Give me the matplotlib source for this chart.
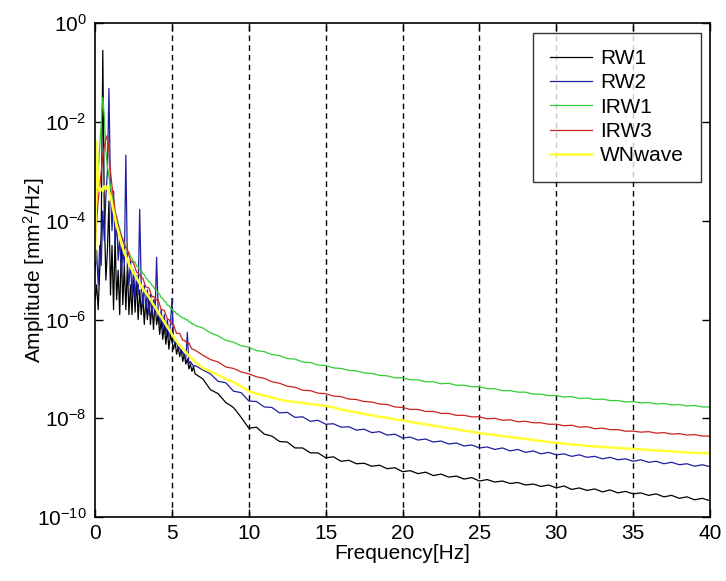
import numpy as np
import matplotlib
matplotlib.use('Agg')
import matplotlib.pyplot as plt
from matplotlib.ticker import FuncFormatter, NullLocator

plt.rcParams['font.family'] = ['Liberation Sans', 'DejaVu Sans']
plt.rcParams['mathtext.fontset'] = 'custom'
plt.rcParams['mathtext.rm'] = 'Liberation Sans'
plt.rcParams['mathtext.it'] = 'Liberation Sans'

# frequency grid: 0.1 Hz steps up to 6.5 Hz, then 0.5 Hz steps to 40 Hz
freq_low = np.round(np.arange(0, 66) * 0.1, 1)
freq_high = np.round(7.0 + np.arange(0, 67) * 0.5, 1)
freq = np.concatenate([freq_low, freq_high])

# log10 of amplitude
rw1_low = [-5.6, -5.3, -5.8, -5.0, -4.2, -0.55, -3.9, -5.2, -4.6, -3.6,
           -5.5, -4.5, -5.8, -4.3, -5.6, -5.0, -5.9, -4.5, -5.7, -4.9,
           -5.8, -4.9, -5.9, -5.3, -5.9, -5.1, -5.85, -5.2, -6.0, -5.4,
           -5.9, -5.5, -6.1, -5.6, -6.0, -5.5, -6.1, -5.7, -6.2, -5.6,
           -6.1, -5.9, -6.3, -6.0, -6.4, -6.1, -6.5, -6.2, -6.6, -6.3,
           -6.45, -6.6, -6.45, -6.7, -6.55, -6.75, -6.6, -6.85, -6.7, -6.9,
           -6.8, -7.0, -6.9, -7.05, -6.95, -7.1]
rw1_high = [-7.2, -7.42, -7.5, -7.68, -7.78, -7.98, -8.2, -8.18, -8.32, -8.36,
            -8.47, -8.48, -8.6, -8.6, -8.7, -8.7, -8.8, -8.78, -8.87, -8.85,
            -8.92, -8.91, -8.97, -8.95, -9.02, -9.0, -9.08, -9.06, -9.12, -9.09,
            -9.16, -9.13, -9.19, -9.17, -9.23, -9.2, -9.27, -9.24, -9.29, -9.27,
            -9.32, -9.3, -9.35, -9.33, -9.38, -9.35, -9.41, -9.37, -9.44, -9.41,
            -9.46, -9.43, -9.49, -9.45, -9.51, -9.48, -9.53, -9.51, -9.56, -9.53,
            -9.59, -9.56, -9.62, -9.59, -9.65, -9.62, -9.67]

rw2_low = [-5.0, -4.6, -5.3, -4.5, -4.9, -3.8, -4.4, -3.5, -3.0, -1.32,
           -3.4, -4.2, -3.4, -4.5, -4.0, -4.8, -4.3, -5.1, -4.6, -4.9,
           -2.67, -4.9, -5.3, -4.8, -5.5, -5.0, -5.6, -5.1, -5.5, -3.77,
           -5.3, -5.7, -5.3, -5.8, -5.4, -5.9, -5.5, -5.9, -5.6, -5.9,
           -4.74, -5.8, -6.1, -5.8, -6.2, -5.9, -6.3, -6.0, -6.35, -6.1,
           -5.57, -6.4, -6.5, -6.45, -6.6, -6.55, -6.7, -6.65, -6.75, -6.8,
           -6.26, -6.9, -6.85, -6.9, -6.95, -6.93]
rw2_high = [-7.02, -7.1, -7.25, -7.28, -7.45, -7.48, -7.65, -7.66, -7.77, -7.78,
            -7.89, -7.88, -7.98, -7.97, -8.06, -8.04, -8.12, -8.11, -8.18, -8.17,
            -8.24, -8.22, -8.29, -8.27, -8.34, -8.32, -8.4, -8.38, -8.44, -8.42,
            -8.48, -8.46, -8.52, -8.5, -8.56, -8.54, -8.6, -8.58, -8.63, -8.6,
            -8.66, -8.63, -8.69, -8.66, -8.72, -8.69, -8.74, -8.72, -8.77, -8.74,
            -8.79, -8.77, -8.82, -8.79, -8.84, -8.82, -8.87, -8.84, -8.89, -8.87,
            -8.92, -8.89, -8.94, -8.92, -8.97, -8.94, -8.98]

irw1_low = [-4.2, -3.6, -3.0, -2.5, -2.0, -1.5, -1.9, -2.6, -2.9, -3.1,
            -3.3, -3.5, -3.6, -3.85, -3.9, -4.05, -4.15, -4.3, -4.35, -4.48,
            -4.5, -4.62, -4.63, -4.72, -4.76, -4.84, -4.83, -4.92, -4.94, -4.99,
            -5.0, -5.07, -5.09, -5.16, -5.18, -5.24, -5.25, -5.31, -5.34, -5.39,
            -5.41, -5.46, -5.49, -5.56, -5.57, -5.63, -5.64, -5.71, -5.71, -5.77,
            -5.79, -5.84, -5.84, -5.89, -5.89, -5.93, -5.94, -5.97, -5.97, -6.01,
            -6.0, -6.05, -6.05, -6.09, -6.09, -6.12]
irw1_high = [-6.17, -6.27, -6.33, -6.42, -6.46, -6.53, -6.56, -6.63, -6.65, -6.71,
             -6.73, -6.79, -6.8, -6.86, -6.87, -6.92, -6.93, -6.98, -6.99, -7.03,
             -7.04, -7.08, -7.09, -7.13, -7.14, -7.18, -7.18, -7.22, -7.22, -7.26,
             -7.26, -7.3, -7.29, -7.33, -7.33, -7.36, -7.36, -7.4, -7.4, -7.44,
             -7.44, -7.47, -7.47, -7.51, -7.51, -7.54, -7.54, -7.57, -7.56, -7.6,
             -7.59, -7.62, -7.61, -7.64, -7.64, -7.67, -7.66, -7.69, -7.68, -7.71,
             -7.7, -7.73, -7.72, -7.75, -7.74, -7.77, -7.77]

irw3_low = [-4.5, -4.0, -3.6, -3.3, -3.0, -2.7, -2.5, -2.35, -2.27, -2.6,
            -3.0, -3.3, -3.55, -3.8, -3.95, -4.1, -4.2, -4.3, -4.4, -4.48,
            -4.55, -4.58, -4.7, -4.8, -4.83, -4.86, -4.95, -5.04, -5.06, -5.1,
            -5.15, -5.16, -5.25, -5.34, -5.35, -5.36, -5.45, -5.54, -5.53, -5.57,
            -5.6, -5.6, -5.7, -5.8, -5.8, -5.82, -5.9, -5.99, -6.0, -6.05,
            -6.1, -6.1, -6.2, -6.28, -6.28, -6.28, -6.35, -6.42, -6.42, -6.45,
            -6.48, -6.47, -6.54, -6.6, -6.6, -6.62]
irw3_high = [-6.72, -6.81, -6.86, -6.96, -6.99, -7.06, -7.1, -7.16, -7.19, -7.26,
             -7.29, -7.35, -7.37, -7.43, -7.44, -7.49, -7.5, -7.55, -7.56, -7.61,
             -7.62, -7.66, -7.67, -7.71, -7.72, -7.77, -7.78, -7.82, -7.82, -7.86,
             -7.86, -7.9, -7.9, -7.94, -7.94, -7.97, -7.97, -8.01, -8.0, -8.04,
             -8.03, -8.07, -8.06, -8.09, -8.09, -8.12, -8.12, -8.15, -8.14, -8.18,
             -8.17, -8.21, -8.2, -8.23, -8.23, -8.26, -8.26, -8.28, -8.27, -8.3,
             -8.29, -8.32, -8.31, -8.34, -8.33, -8.36, -8.36]

wn_low = [-4.8, -2.4, -3.3, -3.4, -3.35, -3.4, -3.3, -3.35, -3.3, -3.4,
          -3.5, -3.65, -3.8, -3.95, -4.1, -4.2, -4.32, -4.45, -4.55, -4.65,
          -4.72, -4.8, -4.87, -4.93, -5.0, -5.05, -5.1, -5.16, -5.22, -5.27,
          -5.32, -5.37, -5.42, -5.46, -5.5, -5.55, -5.6, -5.65, -5.7, -5.75,
          -5.8, -5.85, -5.9, -5.95, -6.0, -6.05, -6.1, -6.15, -6.2, -6.25,
          -6.3, -6.35, -6.4, -6.44, -6.48, -6.52, -6.56, -6.6, -6.63, -6.66,
          -6.7, -6.73, -6.76, -6.79, -6.82, -6.85]
wn_high = [-6.98, -7.05, -7.12, -7.2, -7.27, -7.35, -7.45, -7.5, -7.54, -7.58,
           -7.62, -7.65, -7.67, -7.69, -7.71, -7.73, -7.75, -7.78, -7.82, -7.85,
           -7.88, -7.91, -7.94, -7.97, -7.99, -8.02, -8.04, -8.07, -8.1, -8.12,
           -8.15, -8.17, -8.2, -8.22, -8.25, -8.27, -8.3, -8.32, -8.34, -8.36,
           -8.38, -8.4, -8.42, -8.44, -8.46, -8.48, -8.5, -8.51, -8.53, -8.54,
           -8.56, -8.57, -8.58, -8.59, -8.6, -8.61, -8.62, -8.63, -8.64, -8.65,
           -8.66, -8.67, -8.68, -8.69, -8.7, -8.7, -8.71]

labels = ['RW1', 'RW2', 'IRW1', 'IRW3', 'WNwave']
colors = ['#000000', '#1f1f9e', '#33cc33', '#cc2222', '#ffff33']
series = [rw1_low + rw1_high, rw2_low + rw2_high, irw1_low + irw1_high,
          irw3_low + irw3_high, wn_low + wn_high]
widths = [0.9, 0.9, 0.9, 0.9, 1.8]

fig = plt.figure(figsize=(7.26, 5.81), dpi=100)
ax = fig.add_axes([0.131, 0.110, 0.847, 0.850])

for lab, col, s, lw in zip(labels, colors, series, widths):
    ax.plot(freq, 10 ** np.array(s), color=col, lw=lw, label=lab)

ax.set_yscale('log')
ax.set_xlim(0, 40)
ax.set_ylim(1e-10, 1e0)
ax.set_xticks(range(0, 41, 5))
ax.set_yticks([1e0, 1e-2, 1e-4, 1e-6, 1e-8, 1e-10])
ax.yaxis.set_minor_locator(NullLocator())
ax.yaxis.set_major_formatter(FuncFormatter(
    lambda v, p: r'$\mathregular{10^{%d}}$' % round(np.log10(v))))

for xv in range(5, 40, 5):
    ax.axvline(xv, color='black', ls=(0, (4, 3)), lw=1.0, zorder=0)

ax.tick_params(direction='in', top=True, right=True, length=6,
               labelsize=15, width=1)
ax.tick_params(axis='x', pad=5)
ax.tick_params(axis='y', pad=6)
for sp in ax.spines.values():
    sp.set_linewidth(1.2)

ax.set_xlabel('Frequency[Hz]', fontsize=15, labelpad=1)
ax.set_ylabel(r'Amplitude [mm$\mathregular{^2}$/Hz]', fontsize=15, labelpad=-7)

leg = ax.legend(loc='upper right', fontsize=15, frameon=True, fancybox=False,
                edgecolor='black', handlelength=2.0, labelspacing=0.25,
                borderaxespad=0.45, handletextpad=0.4, borderpad=0.8)
leg.get_frame().set_linewidth(1.0)

fig.savefig('out.png', dpi=100)
